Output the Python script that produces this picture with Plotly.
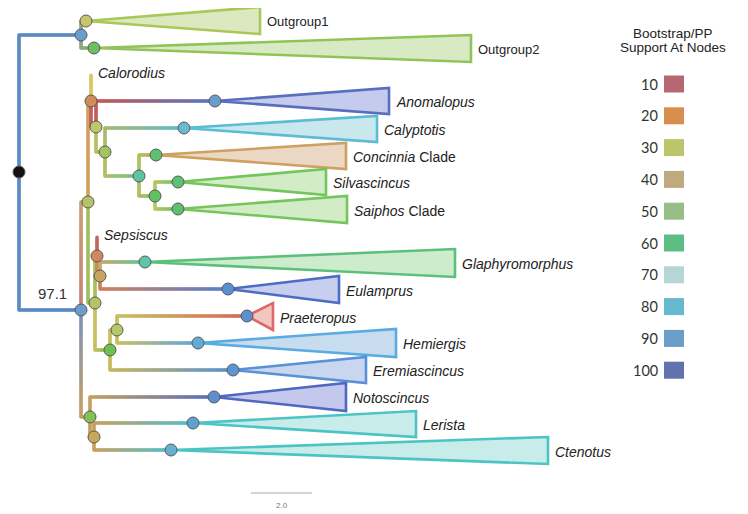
import plotly.graph_objects as go

# ---------------- tree data (depth = x, row = y) ----------------
node_name = ["root", "O", "OG1", "OG2", "I", "A", "N1", "Calorodius", "N2", "Anomalopus",
             "N3", "Calyptotis", "N4", "Concinnia", "N5", "Silvascincus", "Saiphos",
             "N6", "N7", "Sepsiscus", "N9", "Glaphyromorphus", "Eulamprus", "N8", "N10",
             "Praeteropus", "Hemiergis", "Eremiascincus", "B", "Notoscincus", "NL",
             "Lerista", "Ctenotus"]
node_parent = [None, "root", "O", "O", "root", "I", "A", "N1", "N1", "N2",
               "N2", "N3", "N3", "N4", "N4", "N5", "N5",
               "A", "N6", "N7", "N7", "N9", "N9", "N6", "N8",
               "N10", "N10", "N8", "I", "B", "B", "NL", "NL"]
node_depth = [19, 81, 86, 94, 81, 88, 91, 91, 96, 215,
              105, 184, 139, 156, 155, 178, 178,
              95, 97, 97, 100, 145, 228, 110, 117,
              247, 198, 233, 90, 214, 94, 193, 171]
node_row = [172, 35, 21, 48, 310, 202, 101, 75, 127, 101,
            152, 128, 176, 155, 196, 182, 209,
            303, 256, 237, 276, 262, 289, 350, 330,
            316, 343, 370, 417, 397, 437, 423, 450]

# collapsed clades
clade_label = ["Outgroup1", "Outgroup2", "<i>Anomalopus</i>", "<i>Calyptotis</i>",
               "<i>Concinnia</i> Clade", "<i>Silvascincus</i>", "<i>Saiphos</i> Clade",
               "<i>Glaphyromorphus</i>", "<i>Eulamprus</i>", "<i>Praeteropus</i>",
               "<i>Hemiergis</i>", "<i>Eremiascincus</i>", "<i>Notoscincus</i>",
               "<i>Lerista</i>", "<i>Ctenotus</i>"]
clade_node = ["OG1", "OG2", "Anomalopus", "Calyptotis", "Concinnia", "Silvascincus",
              "Saiphos", "Glaphyromorphus", "Eulamprus", "Praeteropus", "Hemiergis",
              "Eremiascincus", "Notoscincus", "Lerista", "Ctenotus"]
clade_tip = [260, 471, 389, 377, 346, 326, 347, 455, 339, 273, 396, 366, 346, 416, 548]
clade_top = [7, 35, 88, 116, 143, 169, 196, 249, 276, 303, 329, 357, 383, 411, 437]
clade_bottom = [34, 62, 114, 142, 169, 195, 223, 277, 303, 330, 357, 383, 411, 437, 464]

single_taxa = ["<i>Calorodius</i>", "<i>Sepsiscus</i>"]
single_nodes = ["Calorodius", "Sepsiscus"]

legend_values = [10, 20, 30, 40, 50, 60, 70, 80, 90, 100]
root_support = "97.1"
scale_value = "2.0"

# ---------------- styles ----------------
legend_colors = ["#b5686f", "#d88e4f", "#bcc56a", "#bfa97f", "#97be85",
                 "#5dbe84", "#b5d5d6", "#66b8cf", "#6a9ec6", "#6272ae"]

node_fill = {
    "root": "#111111", "O": "#6a9ccc", "OG1": "#c8c46c", "OG2": "#6cc060", "I": "#6a9ccc",
    "A": "#b4c466", "N1": "#d08c5c", "N2": "#bcc86a", "Anomalopus": "#6a9ccc",
    "N3": "#a4c462", "Calyptotis": "#6ab8d4", "N4": "#5cc4a0", "Concinnia": "#5cc070",
    "N5": "#62bf62", "Silvascincus": "#5cc070", "Saiphos": "#5cc070", "N6": "#b4c466",
    "N7": "#d08860", "N9": "#c8a45c", "Glaphyromorphus": "#60c4a8", "Eulamprus": "#5c8ed0",
    "N8": "#70c050", "N10": "#b8c868", "Praeteropus": "#5c8ed0", "Hemiergis": "#62acd4",
    "Eremiascincus": "#5c94d4", "B": "#84c052", "Notoscincus": "#5c8ed0", "NL": "#c8a858",
    "Lerista": "#5ca2d0", "Ctenotus": "#66b0d0",
}
# branch colours: (vertical at parent, horizontal start, horizontal end)
branch_col = {
    "O": ("#5b8bc5", "#5b8bc5", "#5b8bc5"),
    "OG1": ("#8a9c9a", "#9aa884", "#b0c070"),
    "OG2": ("#8a9c9a", "#8aa880", "#80c060"),
    "I": ("#5b8bc5", "#5b8bc5", "#5b8bc5"),
    "A": ("#c88078", "#c8a070", "#b4c466"),
    "N1": ("#d4a060", "#d4a060", "#d08c5c"),
    "Calorodius": ("#d4c860", "#d4c860", "#d4c860"),
    "N2": ("#c06060", "#c06060", "#bcc86a"),
    "Anomalopus": ("#c06060", "#c85858", "#5a78c0"),
    "N3": ("#b8c060", "#b8c060", "#a4c462"),
    "Calyptotis": ("#b0c068", "#a8b870", "#60b8d0"),
    "N4": ("#a8c060", "#b0c060", "#70c090"),
    "Concinnia": ("#b0c060", "#b0c060", "#c8a868"),
    "N5": ("#b0c060", "#b0c060", "#80c060"),
    "Silvascincus": ("#b0c860", "#b8c860", "#68c070"),
    "Saiphos": ("#b0c860", "#b8c860", "#68c070"),
    "N6": ("#a0c060", "#a0c060", "#b4c466"),
    "N7": ("#a8c060", "#a8c060", "#d08860"),
    "Sepsiscus": ("#c06860", "#c06860", "#c06860"),
    "N9": ("#c89050", "#c89050", "#c8a45c"),
    "Glaphyromorphus": ("#c8a060", "#c8a868", "#60c498"),
    "Eulamprus": ("#d08060", "#d08060", "#5a80c8"),
    "N8": ("#c8c060", "#c8c060", "#70c050"),
    "N10": ("#c8c060", "#c8c060", "#b8c868"),
    "Praeteropus": ("#c8c060", "#c8c060", "#d86a5a"),
    "Hemiergis": ("#c8c060", "#c8c060", "#60a8d8"),
    "Eremiascincus": ("#c8b860", "#c8b860", "#5a90d0"),
    "B": ("#7a92c0", "#c8a060", "#84c052"),
    "Notoscincus": ("#c8a060", "#c8a060", "#5a70c0"),
    "NL": ("#c8a060", "#c8a060", "#c8a858"),
    "Lerista": ("#c8a060", "#c8a060", "#50c0c8"),
    "Ctenotus": ("#c8a060", "#c8a060", "#50c0c8"),
}
clade_line = ["#a8c858", "#90c458", "#5a6ec0", "#5cbcd4", "#d0a060", "#74c65a", "#74c65a",
              "#5cc07c", "#4e6cc4", "#e06868", "#5aace0", "#5a90d8", "#5068c0", "#4cc4c4", "#4cc4c4"]
clade_fill = ["#dce8c0", "#d8eac4", "#c4cbec", "#c8e8ee", "#ead8c4", "#d2ecc8", "#d2ecc8",
              "#cceccc", "#c8cfee", "#f4c6c0", "#c8dcf0", "#c8d6f0", "#c4c8ec", "#c8ecea", "#c8ecea"]

LW = 2.6
FAM = "Liberation Sans, Arial, sans-serif"
LABEL_FONT = dict(family=FAM, size=14, color="#222222")
OUT_FONT = dict(family=FAM, size=13, color="#222222")


def hex2rgb(h):
    h = h.lstrip("#")
    return tuple(int(h[i:i + 2], 16) for i in (0, 2, 4))


def mix(c0, c1, t):
    a, b = hex2rgb(c0), hex2rgb(c1)
    return "rgb(%d,%d,%d)" % tuple(round(a[i] + (b[i] - a[i]) * t) for i in range(3))


fig = go.Figure()

# gradient branches drawn as densely packed small square markers (one trace)
bx, by, bc = [], [], []


def seg(x0, y0, x1, y1, c0, c1):
    length = max(abs(x1 - x0), abs(y1 - y0))
    n = max(2, int(length * 2) + 1)
    for k in range(n):
        t = k / (n - 1)
        bx.append(x0 + (x1 - x0) * t)
        by.append(y0 + (y1 - y0) * t)
        bc.append(mix(c0, c1, t))


idx = {n: i for i, n in enumerate(node_name)}

for i, name in enumerate(node_name):
    p = node_parent[i]
    if p is None:
        continue
    j = idx[p]
    vc, hc0, hc1 = branch_col[name]
    px, py = node_depth[j], node_row[j]
    cx, cy = node_depth[i], node_row[i]
    seg(px, py, px, cy, vc, hc0)
    if cx != px:
        seg(px, cy, cx, cy, hc0, hc1)

fig.add_trace(go.Scatter(x=bx, y=by, mode="markers",
                         marker=dict(symbol="square", size=LW, color=bc, line=dict(width=0)),
                         hoverinfo="skip", showlegend=False))

# collapsed clade triangles
for k, nd in enumerate(clade_node):
    i = idx[nd]
    ax, ay = node_depth[i], node_row[i]
    fig.add_trace(go.Scatter(
        x=[ax, clade_tip[k], clade_tip[k], ax],
        y=[ay, clade_top[k], clade_bottom[k], ay],
        mode="lines", fill="toself", fillcolor=clade_fill[k],
        line=dict(color=clade_line[k], width=LW), hoverinfo="skip", showlegend=False))

# node circles
cx_, cy_, cc_ = [], [], []
for i, name in enumerate(node_name):
    if name in node_fill:
        cx_.append(node_depth[i])
        cy_.append(node_row[i])
        cc_.append(node_fill[name])
fig.add_trace(go.Scatter(x=cx_, y=cy_, mode="markers",
                         marker=dict(size=12, color=cc_, line=dict(color="#5a5a5a", width=1)),
                         hoverinfo="skip", showlegend=False))

annotations = []
for k, nd in enumerate(clade_node):
    annotations.append(dict(x=clade_tip[k] + 5, y=(clade_top[k] + clade_bottom[k]) / 2 + 1,
                            text=clade_label[k], showarrow=False, xanchor="left",
                            yanchor="middle", font=OUT_FONT if k < 2 else LABEL_FONT))
for k, nd in enumerate(single_nodes):
    i = idx[nd]
    annotations.append(dict(x=node_depth[i] + 5, y=node_row[i] - 2, text=single_taxa[k],
                            showarrow=False, xanchor="left", yanchor="middle", font=LABEL_FONT))

# root support label
annotations.append(dict(x=52, y=293, text=root_support, showarrow=False, xanchor="center",
                        yanchor="middle", font=dict(family=FAM, size=15, color="#333333")))

# scale bar
fig.add_trace(go.Scatter(x=[251, 312], y=[493, 493], mode="lines",
                         line=dict(color="#aaaaaa", width=1.2), hoverinfo="skip",
                         showlegend=False))
annotations.append(dict(x=281.5, y=505, text=scale_value, showarrow=False,
                        font=dict(family=FAM, size=8, color="#777777")))

# legend
annotations.append(dict(x=673, y=33, text="Bootstrap/PP", showarrow=False,
                        font=dict(family=FAM, size=13.5, color="#222222")))
annotations.append(dict(x=673, y=47, text="Support At Nodes", showarrow=False,
                        font=dict(family=FAM, size=13.5, color="#222222")))
shapes = []
for k, v in enumerate(legend_values):
    yc = 84 + k * 31.8
    shapes.append(dict(type="rect", xref="x", yref="y", x0=664, x1=684, y0=yc - 8.5,
                       y1=yc + 8.5, fillcolor=legend_colors[k], line=dict(width=0)))
    annotations.append(dict(x=660, y=yc, text=str(v), showarrow=False, xanchor="right",
                            yanchor="middle",
                            font=dict(family="Lato, Open Sans, sans-serif", size=14.5,
                                      color="#333333")))

# The page body has an 8px margin: size the figure and ranges so that
# data units equal page pixels.
OFF = 8
fig.update_layout(
    width=748 - OFF, height=514 - OFF, margin=dict(l=0, r=0, t=0, b=0),
    paper_bgcolor="white", plot_bgcolor="white",
    xaxis=dict(range=[OFF, 748], visible=False, fixedrange=True),
    yaxis=dict(range=[514, OFF], visible=False, fixedrange=True),
    annotations=annotations, shapes=shapes, showlegend=False,
)
fig.write_html("out.html")
